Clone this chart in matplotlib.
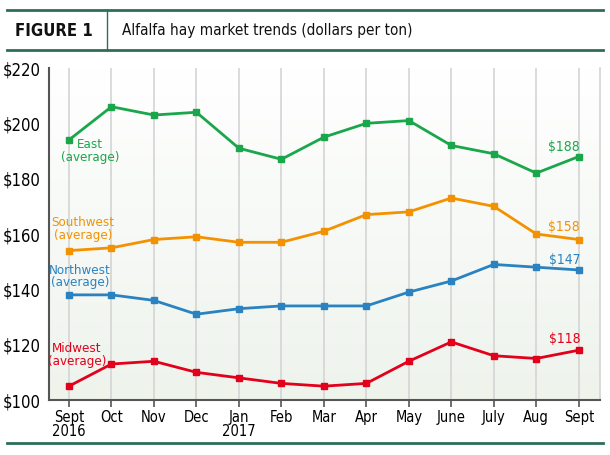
import numpy as np
import matplotlib.pyplot as plt
from matplotlib.lines import Line2D
from matplotlib.colors import LinearSegmentedColormap

months = ['Sept\n2016', 'Oct', 'Nov', 'Dec', 'Jan\n2017', 'Feb', 'Mar',
          'Apr', 'May', 'June', 'July', 'Aug', 'Sept']
east = [194, 206, 203, 204, 191, 187, 195, 200, 201, 192, 189, 182, 188]
southwest = [154, 155, 158, 159, 157, 157, 161, 167, 168, 173, 170, 160, 158]
northwest = [138, 138, 136, 131, 133, 134, 134, 134, 139, 143, 149, 148, 147]
midwest = [105, 113, 114, 110, 108, 106, 105, 106, 114, 121, 116, 115, 118]
yticks = [100, 120, 140, 160, 180, 200, 220]

green = '#1aa64b'
orange = '#f39200'
blue = '#2a83c0'
red = '#e2001a'
teal = '#2d6e58'

cond = dict(family='DejaVu Sans', stretch='condensed')

fig = plt.figure(figsize=(6.1, 4.55), dpi=100)
ax = fig.add_axes([49 / 610, 1 - 400 / 455, 551 / 610, 332 / 455])

x = np.arange(len(months))
ax.set_xlim(-0.47, 12.5)
ax.set_ylim(100, 220)

# gradient background
grad = np.linspace(0, 1, 256).reshape(-1, 1)
cmap = LinearSegmentedColormap.from_list('bg', ['#eef3ec', '#ffffff'])
ax.imshow(grad, aspect='auto', cmap=cmap, origin='lower',
          extent=[-0.47, 12.5, 100, 220], zorder=0)

for xi in x:
    ax.axvline(xi, color='#d4d4d4', lw=1.2, zorder=1)

series = [(east, green), (southwest, orange), (northwest, blue), (midwest, red)]
for vals, c in series:
    ax.plot(x, vals, color=c, lw=2.0, marker='s', ms=4.2, zorder=3)

labels = [(0.49, 190, 'East\n(average)', green),
          (0.33, 161.8, 'Southwest\n(average)', orange),
          (0.26, 144.6, 'Northwest\n(average)', blue),
          (0.19, 116.3, 'Midwest\n(average)', red)]
for xv, yv, s, c in labels:
    ax.text(xv, yv, s, color=c, ha='center', va='center', fontsize=9.5,
            linespacing=0.95, **cond)

ends = [(191.4, '$188', green), (162.5, '$158', orange),
        (150.6, '$147', blue), (122.0, '$118', red)]
for yv, s, c in ends:
    ax.text(11.66, yv, s, color=c, ha='center', va='center', fontsize=10, **cond)

ax.set_xticks(x)
ax.set_xticklabels(months, fontsize=10.5, linespacing=0.9, **cond)
ax.set_yticks(yticks)
ax.set_yticklabels(['$%d' % v for v in yticks], fontsize=12, **cond)
ax.tick_params(axis='y', length=0, pad=6)
ax.tick_params(axis='x', length=5, width=1.2, color='#555555', pad=2)

ax.spines['top'].set_visible(False)
ax.spines['right'].set_color('#d4d4d4')
ax.spines['right'].set_linewidth(1.2)
ax.spines['left'].set_color('#555555')
ax.spines['left'].set_linewidth(1.5)
ax.spines['bottom'].set_color('#555555')
ax.spines['bottom'].set_linewidth(1.5)

# header
fig.add_artist(Line2D([7 / 610, 603 / 610], [1 - 10 / 455, 1 - 10 / 455], color=teal, lw=2))
fig.add_artist(Line2D([7 / 610, 603 / 610], [1 - 50 / 455, 1 - 50 / 455], color=teal, lw=2))
fig.add_artist(Line2D([107 / 610, 107 / 610], [1 - 10 / 455, 1 - 50 / 455], color=teal, lw=1))
fig.add_artist(Line2D([7 / 610, 603 / 610], [1 - 443 / 455, 1 - 443 / 455], color=teal, lw=2))
fig.text(15 / 610, 1 - 31 / 455, 'FIGURE 1', fontsize=12, fontweight='bold',
         va='center', ha='left', color='#111111', **cond)
fig.text(122 / 610, 1 - 31 / 455, 'Alfalfa hay market trends (dollars per ton)',
         fontsize=11, va='center', ha='left', color='#111111', **cond)

fig.savefig('out.png', dpi=100)
